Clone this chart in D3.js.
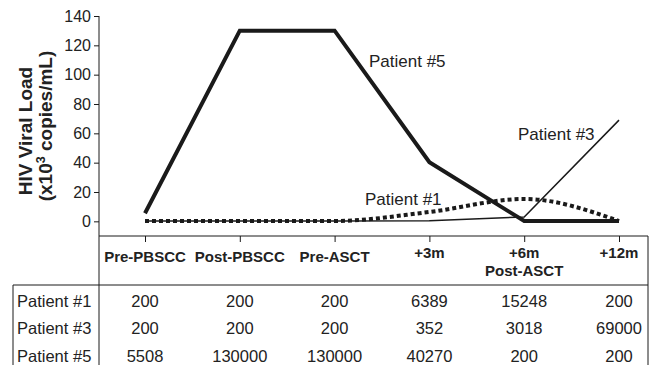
<!DOCTYPE html>
<html>
<head>
<meta charset="utf-8">
<script src="https://cdn.jsdelivr.net/npm/d3@7"></script>
<style>
  html, body { margin: 0; padding: 0; background: #fff; }
  svg { display: block; font-family: "Liberation Sans", Arial, sans-serif; }
</style>
</head>
<body>
<svg id="chart" width="649" height="365"></svg>
<script>
// Time points (columns of the table and x-axis categories)
const categories = ["Pre-PBSCC", "Post-PBSCC", "Pre-ASCT", "+3m", "+6m", "+12m"];
const categorySubLabels = ["", "", "", "", "Post-ASCT", ""];

// Viral load, copies/mL
const patient1 = [200, 200, 200, 6389, 15248, 200];
const patient3 = [200, 200, 200, 352, 3018, 69000];
const patient5 = [5508, 130000, 130000, 40270, 200, 200];

const seriesNames = ["Patient #1", "Patient #3", "Patient #5"];
const yTicks = [0, 20, 40, 60, 80, 100, 120, 140];

const svg = d3.select("#chart");
const ink = "#1a1a1a";
const textInk = "#222";

// Scales (plotted in thousands of copies/mL)
const x = d3.scalePoint().domain(categories).range([145, 619]);
const y = d3.scaleLinear().domain([-10, 140]).range([236, 16]);

const axisX = 99;
const tableTop = 236;
const rowTop = 285;
const tableRight = 648;
const tableLeft = 13;

// Y axis
const yAxis = svg.append("g")
  .attr("transform", `translate(${axisX},0)`)
  .call(d3.axisLeft(y).tickValues(yTicks).tickSize(5).tickPadding(3).tickSizeOuter(0));
yAxis.select(".domain").remove();
yAxis.selectAll("line").attr("stroke", ink);
yAxis.selectAll("text")
  .attr("fill", textInk)
  .style("font-size", "16px")
  .style("font-family", "'Liberation Sans', Arial, sans-serif");

// Y axis title (two lines, rotated)
const title = svg.append("text")
  .attr("transform", "rotate(-90)")
  .attr("text-anchor", "middle")
  .attr("fill", textInk)
  .style("font-weight", "bold")
  .style("font-size", "19px");
title.append("tspan").attr("x", -131).attr("y", 32).text("HIV Viral Load");
const t2 = title.append("tspan").attr("x", -126).attr("y", 52);
t2.append("tspan").text("(x10");
t2.append("tspan").attr("dy", -7).style("font-size", "12.5px").text("3");
t2.append("tspan").attr("dy", 7).text(" copies/mL)");

// Table grid
const grid = svg.append("g").attr("stroke", ink).attr("stroke-width", 1).attr("fill", "none");
grid.append("line").attr("x1", axisX).attr("x2", axisX).attr("y1", 16).attr("y2", 365);
grid.append("line").attr("x1", axisX).attr("x2", tableRight).attr("y1", tableTop).attr("y2", tableTop);
grid.append("line").attr("x1", tableRight).attr("x2", tableRight).attr("y1", tableTop).attr("y2", 365);
grid.append("line").attr("x1", tableLeft).attr("x2", tableRight).attr("y1", rowTop).attr("y2", rowTop);
grid.append("line").attr("x1", tableLeft).attr("x2", tableLeft).attr("y1", rowTop).attr("y2", 365);

// X axis ticks hanging below the table top
const xAxis = svg.append("g")
  .attr("transform", `translate(0,${tableTop})`)
  .call(d3.axisBottom(x).tickSize(6).tickSizeOuter(0).tickFormat(""));
xAxis.select(".domain").remove();
xAxis.selectAll("line").attr("stroke", ink);

// Category labels
const catLabels = svg.append("g")
  .attr("fill", textInk)
  .attr("text-anchor", "middle")
  .style("font-weight", "bold")
  .style("font-size", "15px");
categories.forEach((c, i) => {
  const hasPlus = c.startsWith("+");
  catLabels.append("text")
    .attr("x", x(c))
    .attr("y", hasPlus ? 258 : 262)
    .text(c);
  if (categorySubLabels[i]) {
    catLabels.append("text")
      .attr("x", x(c))
      .attr("y", 276)
      .text(categorySubLabels[i]);
  }
});

// Data rows
const rows = [patient1, patient3, patient5];
const rowCenters = [300.5, 328, 355.5];
const body = svg.append("g").attr("fill", textInk).style("font-size", "16.5px");
rows.forEach((vals, r) => {
  body.append("text")
    .attr("x", 17)
    .attr("y", rowCenters[r] + 6)
    .text(seriesNames[r]);
  vals.forEach((v, i) => {
    body.append("text")
      .attr("x", x(categories[i]))
      .attr("y", rowCenters[r] + 6)
      .attr("text-anchor", "middle")
      .text(v);
  });
});

// Lines
const toPoints = vals => vals.map((v, i) => [x(categories[i]), y(v / 1000)]);
const straight = d3.line();
const smooth = d3.line().curve(d3.curveMonotoneX);

svg.append("path")
  .attr("d", smooth(toPoints(patient1)))
  .attr("fill", "none")
  .attr("stroke", ink)
  .attr("stroke-width", 4)
  .attr("stroke-dasharray", "4,3");

svg.append("path")
  .attr("d", straight(toPoints(patient3)))
  .attr("fill", "none")
  .attr("stroke", ink)
  .attr("stroke-width", 1.5);

svg.append("path")
  .attr("d", straight(toPoints(patient5)))
  .attr("fill", "none")
  .attr("stroke", ink)
  .attr("stroke-width", 4)
  .attr("stroke-linejoin", "miter");

// Series labels
const seriesLabels = svg.append("g").attr("fill", textInk).style("font-size", "17px");
seriesLabels.append("text").attr("x", 369).attr("y", 67).text(seriesNames[2]);
seriesLabels.append("text").attr("x", 518).attr("y", 140).text(seriesNames[1]);
seriesLabels.append("text").attr("x", 365).attr("y", 205).text(seriesNames[0]);
</script>
</body>
</html>
